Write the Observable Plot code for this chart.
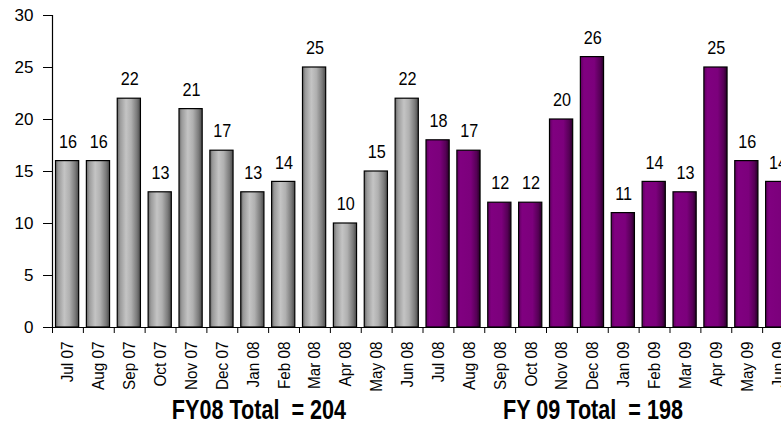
<!DOCTYPE html>
<html>
<head>
<meta charset="utf-8">
<script src="https://cdn.jsdelivr.net/npm/d3@7"></script>
<script src="https://cdn.jsdelivr.net/npm/@observablehq/plot@0.6"></script>
<style>
  html, body { margin: 0; padding: 0; background: #fff; overflow: hidden; width: 781px; height: 429px; }
  #wrap { position: relative; width: 800px; font-family: "Liberation Sans", Arial, sans-serif; }
  #chart svg { max-width: none; display: block; }
  #caption { position: relative; height: 49px; }
  .fy { position: absolute; top: 15px; transform: translateX(-50%) scaleX(0.8); font-weight: bold; font-size: 27px; line-height: normal; white-space: pre; color: #000; }
</style>
</head>
<body>
<div id="wrap">
  <div id="chart"></div>
  <div id="caption"></div>
</div>
<script>
const months = ["Jul 07","Aug 07","Sep 07","Oct 07","Nov 07","Dec 07","Jan 08","Feb 08","Mar 08","Apr 08","May 08","Jun 08",
                "Jul 08","Aug 08","Sep 08","Oct 08","Nov 08","Dec 08","Jan 09","Feb 09","Mar 09","Apr 09","May 09","Jun 09"];
const fy08Values = [16,16,22,13,21,17,13,14,25,10,15,22];
const fy09Values = [18,17,12,12,20,26,11,14,13,25,16,14];
const yTicks = [0,5,10,15,20,25,30];
const captions = [{text: "FY08 Total  = 204", group: "FY08"}, {text: "FY 09 Total  = 198", group: "FY09"}];

const fy08 = fy08Values.map((v, i) => ({month: months[i], value: v, fy: "FY08"}));
const fy09 = fy09Values.map((v, i) => ({month: months[i + 12], value: v, fy: "FY09"}));
const all = fy08.concat(fy09);

const W = 800, ML = 52, MR = 7;
const step = (W - ML - MR) / months.length;
const font = '"Liberation Sans", Arial, sans-serif';

const chart = Plot.plot({
  width: W,
  height: 380,
  marginLeft: ML,
  marginRight: MR,
  marginTop: 15,
  marginBottom: 53,
  style: {fontFamily: font, background: "#fff", color: "#000", overflow: "visible"},
  x: {domain: months, padding: 0, round: false, label: null},
  y: {domain: [0, 30], label: null},
  marks: [
    Plot.barY(fy08, {x: "month", y: "value", fill: "url(#grayGrad)", stroke: "#000", strokeWidth: 1.2, insetLeft: 3.5, insetRight: 4.2}),
    Plot.barY(fy09, {x: "month", y: "value", fill: "url(#purpleGrad)", stroke: "#000", strokeWidth: 1.2, insetLeft: 3.5, insetRight: 4.2}),
    Plot.text(all, {x: "month", y: "value", text: d => String(d.value), dy: -19, fontSize: 18, fill: "#000"}),
    Plot.ruleY([0], {stroke: "#000", strokeWidth: 1.2}),
    Plot.ruleX([months[0]], {y1: 0, y2: 30, dx: -step / 2, stroke: "#000", strokeWidth: 1.2}),
    Plot.axisY({ticks: yTicks, tickSize: 9, tickPadding: 10, fontSize: 17, label: null}),
    Plot.axisX({tickFormat: () => "", tickSize: 6, dx: -step / 2, label: null}),
    Plot.axisX({tickSize: 0, tickPadding: 14, tickRotate: -90, fontSize: 17, label: null})
  ]
});

// narrow the text to emulate the condensed face of the original
chart.querySelectorAll("text").forEach(t => {
  const g = t.closest("g[aria-label]");
  const role = g ? g.getAttribute("aria-label") : "";
  let k = 0.9;
  if (role.startsWith("y-axis")) k = 1.0;
  else if (role.startsWith("x-axis")) { k = 0.9; t.style.fontSize = "17px"; }
  if (k === 1) return;
  const tr = t.getAttribute("transform");
  if (tr) {
    t.setAttribute("transform", tr + ` scale(${k},1)`);
  } else {
    const x = parseFloat(t.getAttribute("x") || 0), y = parseFloat(t.getAttribute("y") || 0);
    t.setAttribute("transform", `translate(${x},${y}) scale(${k},1) translate(${-x},${-y})`);
  }
});

// gradient definitions
const ns = "http://www.w3.org/2000/svg";
const defs = document.createElementNS(ns, "defs");
function grad(id, stops) {
  const g = document.createElementNS(ns, "linearGradient");
  g.setAttribute("id", id);
  g.setAttribute("x1", "0"); g.setAttribute("x2", "1"); g.setAttribute("y1", "0"); g.setAttribute("y2", "0");
  for (const [o, c] of stops) {
    const s = document.createElementNS(ns, "stop");
    s.setAttribute("offset", o);
    s.setAttribute("stop-color", c);
    g.appendChild(s);
  }
  defs.appendChild(g);
}
grad("grayGrad", [["0", "#666"], ["0.12", "#9a9a9a"], ["0.38", "#c4c4c4"], ["0.6", "#b0b0b0"], ["0.85", "#7a7a7a"], ["1", "#4a4a4a"]]);
grad("purpleGrad", [["0", "#5e005e"], ["0.15", "#800080"], ["0.6", "#7c007c"], ["0.85", "#560056"], ["1", "#260026"]]);
chart.insertBefore(defs, chart.firstChild);
document.getElementById("chart").appendChild(chart);

// captions under each fiscal year
const xs = chart.scale("x");
const cap = document.getElementById("caption");
const groupCenter = (a, b) => (xs.apply(months[a]) + xs.apply(months[b]) + xs.bandwidth) / 2;
const centers = {FY08: groupCenter(0, 11) + 22, FY09: groupCenter(12, 23) - 15};
for (const c of captions) {
  const s = document.createElement("span");
  s.className = "fy";
  s.textContent = c.text;
  s.style.left = centers[c.group] + "px";
  cap.appendChild(s);
}
</script>
</body>
</html>
